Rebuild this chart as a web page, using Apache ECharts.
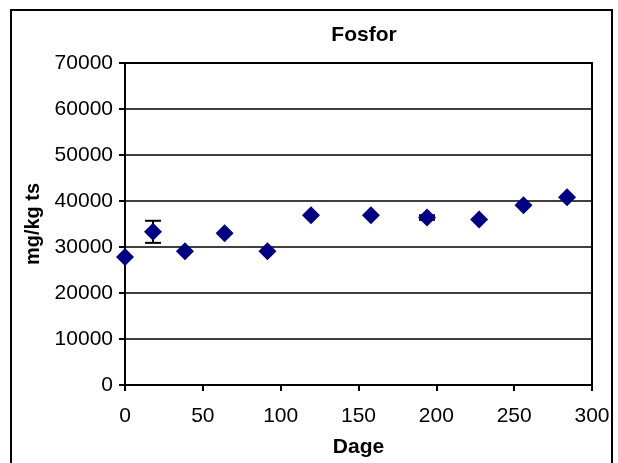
<!DOCTYPE html>
<html><head><meta charset="utf-8">
<script src="https://cdn.jsdelivr.net/npm/echarts@6/dist/echarts.min.js"></script>
<style>html,body{margin:0;padding:0;background:#fff}#c{width:618px;height:463px}</style>
</head><body><div id="c"></div>
<script>
const days = [0, 18, 38.5, 64, 91.5, 119.5, 158, 194, 227.5, 256, 284];
const values = [27800, 33300, 29100, 33000, 29100, 36900, 36900, 36400, 36000, 39100, 40800];
const errors = [0, 2400, 0, 0, 0, 0, 0, 500, 0, 0, 0];
const xTicks = [0, 50, 100, 150, 200, 250, 300];
const yTicks = [0, 10000, 20000, 30000, 40000, 50000, 60000, 70000];

const pts = days.map((d, i) => [d, values[i]]);
const errData = days.map((d, i) => [d, values[i] - errors[i], values[i] + errors[i]]).filter((r, i) => errors[i] > 0);
const font = 'Liberation Sans, Arial, sans-serif';
const chart = echarts.init(document.getElementById('c'));
chart.setOption({
  animation: false,
  backgroundColor: '#fff',
  title: { text: 'Fosfor', left: 359, top: 20, textAlign: 'center',
    textStyle: { fontFamily: font, fontWeight: 'bold', fontSize: 21, color: '#000' } },
  graphic: [{ type: 'rect', shape: { x: 11, y: 10, width: 601, height: 470 },
    style: { fill: null, stroke: '#000', lineWidth: 2 }, silent: true }],
  grid: { left: 125, top: 63, right: 26, bottom: 78, show: true, borderColor: '#000', borderWidth: 2 },
  xAxis: { type: 'value', min: xTicks[0], max: xTicks[xTicks.length - 1], interval: 50,
    name: 'Dage', nameLocation: 'middle', nameGap: 52,
    nameTextStyle: { fontFamily: font, fontWeight: 'bold', fontSize: 21, color: '#000' },
    axisLine: { show: true, lineStyle: { color: '#000', width: 2 } },
    axisTick: { show: true, length: 6, lineStyle: { color: '#000', width: 2 } },
    axisLabel: { fontFamily: font, fontSize: 21, color: '#000', margin: 21, formatter: v => String(v) },
    splitLine: { show: false } },
  yAxis: { type: 'value', min: yTicks[0], max: yTicks[yTicks.length - 1], interval: 10000,
    name: 'mg/kg ts', nameLocation: 'middle', nameGap: 78, nameRotate: 90,
    nameTextStyle: { fontFamily: font, fontWeight: 'bold', fontSize: 20, color: '#000' },
    axisLine: { show: true, lineStyle: { color: '#000', width: 2 } },
    axisTick: { show: true, length: 6, lineStyle: { color: '#000', width: 2 } },
    axisLabel: { fontFamily: font, fontSize: 21, color: '#000', margin: 12, formatter: v => String(v) },
    splitLine: { show: true, lineStyle: { color: '#000', width: 1.5 } } },
  series: [
    { type: 'custom', data: errData, z: 3,
      renderItem: function (params, api) {
        const x = api.value(0);
        const lo = api.coord([x, api.value(1)]);
        const hi = api.coord([x, api.value(2)]);
        const w = 8;
        const st = { stroke: '#000', lineWidth: 2 };
        return { type: 'group', children: [
          { type: 'line', shape: { x1: lo[0], y1: lo[1], x2: hi[0], y2: hi[1] }, style: st },
          { type: 'line', shape: { x1: lo[0] - w, y1: lo[1], x2: lo[0] + w, y2: lo[1] }, style: st },
          { type: 'line', shape: { x1: hi[0] - w, y1: hi[1], x2: hi[0] + w, y2: hi[1] }, style: st }
        ] };
      } },
    { type: 'scatter', data: pts, symbol: 'diamond', symbolSize: 18, z: 4,
      itemStyle: { color: '#000080', opacity: 1 } }
  ]
});
</script></body></html>
